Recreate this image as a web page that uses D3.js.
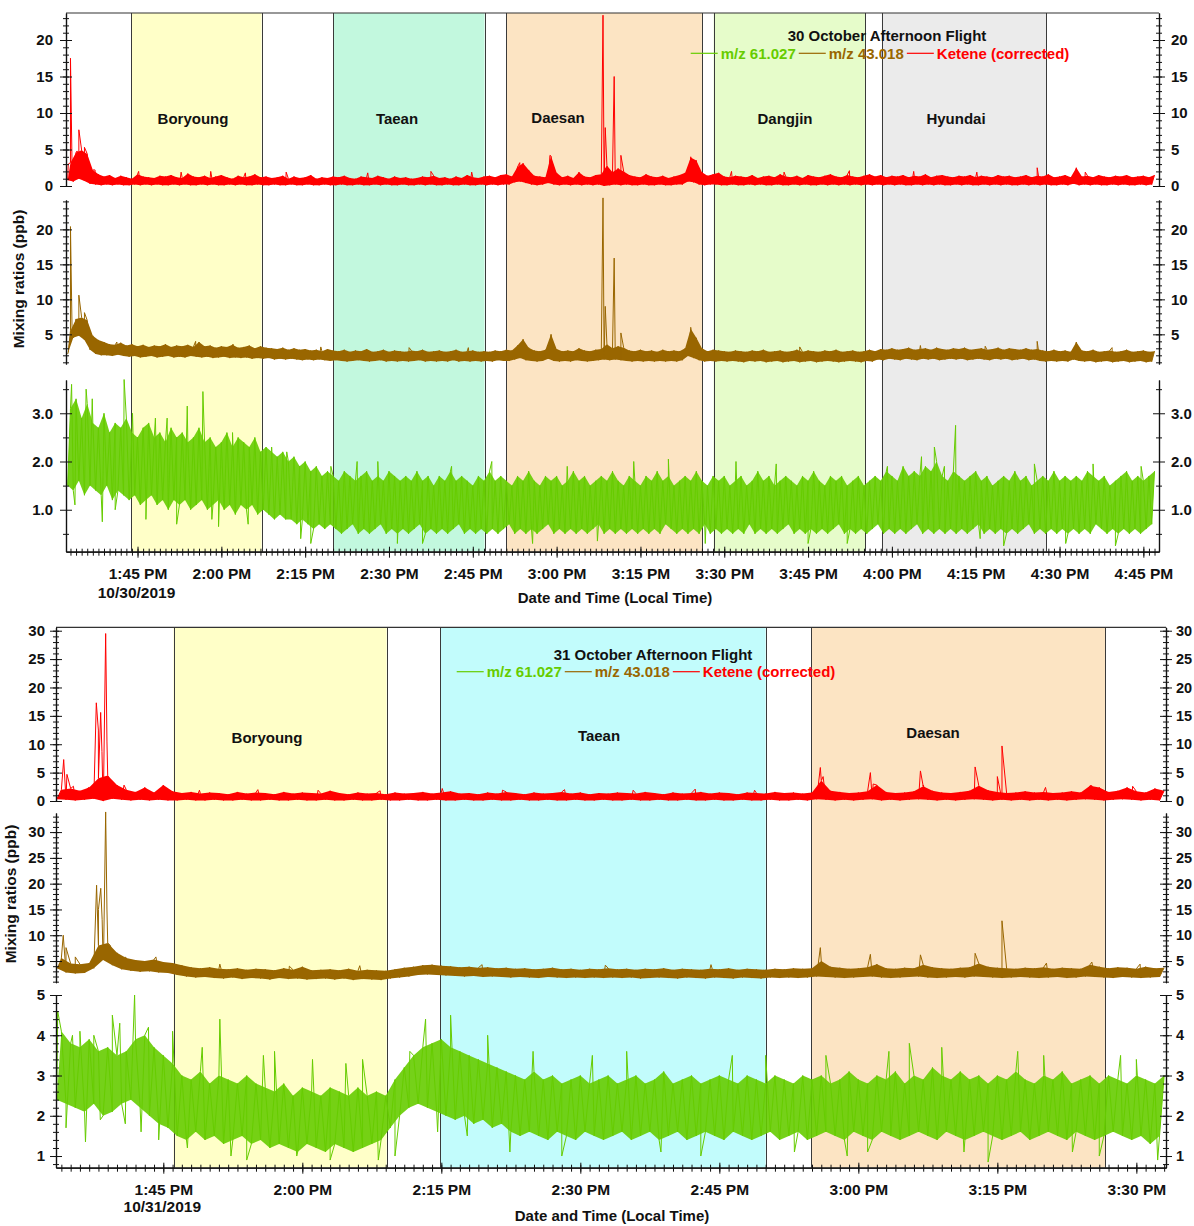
<!DOCTYPE html>
<html>
<head>
<meta charset="utf-8">
<script src="https://cdn.jsdelivr.net/npm/d3@7"></script>
<style>
  body { margin: 0; background: #fff; }
  svg { display: block; }
</style>
</head>
<body>
<svg id="chart" width="1194" height="1226"></svg>
<script>
// all times are minutes after 1:00 PM local time; each bin = 1 minute (low, then high reading)

// ---------------- 30 October afternoon flight ----------------
const bandNames30 = ['Boryoung', 'Taean', 'Daesan', 'Dangjin', 'Hyundai'];
const bandStart30 = [43.9, 80.0, 111.0, 148.1, 178.2];
const bandEnd30 = [67.2, 107.1, 146.0, 175.2, 207.6];
const binStart30 = 32.5;

const ketene30Hi = [
  3.2,4.6,4.9,4.4,2.2,1.6,1.3,1.5,1.1,1.4, 1.2,1.0,1.6,1.3,1.2,1.1,1.4,1.3,1.5,1.2,
  1.1,1.7,1.3,1.2,1.4,1.1,1.3,1.5,1.2,1.0, 1.4,1.2,1.3,1.6,1.2,1.3,1.1,1.2,1.4,1.0,
  1.3,1.1,1.2,1.5,1.0,1.2,1.1,1.3,1.2,1.4, 1.1,1.0,1.3,1.2,1.1,1.4,1.2,1.0,1.3,1.1,
  1.2,1.0,1.1,1.3,1.2,1.4,1.1,1.2,1.0,1.3, 1.1,1.5,1.2,1.1,1.3,1.4,1.2,1.5,1.6,1.3,
  2.6,3.1,2.2,1.4,1.3,1.2,4.1,1.8,1.2,1.4, 1.1,1.9,1.3,1.2,1.5,1.6,2.8,1.9,2.4,2.0,
  1.5,1.3,1.2,1.6,1.3,1.2,1.4,1.1,1.3,1.5, 1.8,3.9,3.5,1.9,1.4,1.6,1.8,1.3,1.2,1.4,
  1.3,1.2,1.5,1.1,1.3,1.4,1.2,1.6,1.3,1.2, 1.4,1.1,1.5,1.3,1.2,1.4,1.6,1.3,1.2,1.5,
  1.3,1.2,1.4,1.6,1.3,1.5,1.2,1.4,1.3,1.5, 1.2,1.4,1.3,1.6,1.2,1.4,1.5,1.3,1.2,1.4,
  1.3,1.5,1.2,1.4,1.3,1.2,1.5,1.3,1.4,1.2, 1.3,1.5,1.2,1.4,1.3,1.6,1.2,1.3,1.5,1.2,
  2.5,1.3,1.4,1.2,1.5,1.3,1.2,1.4,1.3,1.5, 1.2,1.3,1.4,1.2,1.5
];
const ketene30Lo = [
  0.8,0.6,1.0,0.7,0.3,0.2,0.1,0.2,0.1,0.2, 0.1,0.1,0.2,0.1,0.2,0.1,0.2,0.1,0.1,0.2,
  0.1,0.2,0.1,0.1,0.2,0.1,0.2,0.1,0.1,0.2, 0.1,0.2,0.1,0.1,0.2,0.1,0.1,0.2,0.1,0.1,
  0.2,0.1,0.1,0.2,0.1,0.1,0.2,0.1,0.1,0.2, 0.1,0.1,0.2,0.1,0.1,0.2,0.1,0.2,0.1,0.1,
  0.2,0.1,0.1,0.2,0.1,0.2,0.1,0.1,0.2,0.1, 0.1,0.2,0.1,0.1,0.2,0.1,0.2,0.1,0.2,0.2,
  0.5,0.6,0.4,0.2,0.1,0.2,0.4,0.2,0.1,0.2, 0.1,0.2,0.1,0.2,0.1,0.2,0.0,0.1,0.2,0.1,
  0.2,0.1,0.1,0.2,0.1,0.1,0.2,0.1,0.1,0.2, 0.2,0.6,0.5,0.2,0.1,0.2,0.2,0.1,0.1,0.2,
  0.1,0.1,0.2,0.1,0.2,0.1,0.1,0.2,0.1,0.1, 0.2,0.1,0.2,0.1,0.1,0.2,0.1,0.2,0.1,0.2,
  0.1,0.2,0.1,0.2,0.1,0.2,0.1,0.2,0.1,0.2, 0.1,0.1,0.2,0.1,0.2,0.1,0.2,0.1,0.1,0.2,
  0.1,0.2,0.1,0.1,0.2,0.1,0.2,0.1,0.2,0.1, 0.1,0.2,0.1,0.2,0.1,0.2,0.1,0.1,0.2,0.1,
  0.3,0.1,0.2,0.1,0.2,0.1,0.1,0.2,0.1,0.2, 0.1,0.1,0.2,0.1,0.2
];
const ketene30Peaks = [
  [32.6, 3.0], [33.0, 17.5], [33.3, 2.0], [34.2, 4.8], [34.5, 7.7], [35.0, 1.5], [35.5, 5.3],
  [37.4, 2.2], [45.2, 2.0], [52.8, 1.9], [58.1, 2.0], [64.3, 1.8], [71.6, 1.9], [86.2, 1.8],
  [97.5, 2.0], [104.8, 1.9], [113.4, 3.2], [118.8, 4.2], [128.3, 23.4], [128.7, 8.0],
  [130.3, 15.0], [131.5, 4.2], [144.0, 4.0], [151.3, 2.0], [160.7, 1.9], [172.4, 2.1],
  [183.9, 2.0], [195.2, 1.9], [206.0, 2.5], [214.6, 1.9]
];

const mz43_30Hi = [
  5.5,7.2,7.4,7.0,4.8,4.2,3.9,3.6,3.5,3.8, 3.4,3.6,3.3,3.5,3.2,3.4,3.3,3.6,3.2,3.4,
  3.3,3.5,3.2,3.9,3.3,3.4,3.1,3.3,3.2,3.5, 3.1,3.2,3.4,3.0,3.3,3.1,3.0,2.9,3.1,2.8,
  3.0,2.8,2.9,2.7,2.8,2.6,2.9,2.7,2.6,2.8, 2.5,2.7,2.6,2.9,2.5,2.6,2.8,2.5,2.7,2.6,
  2.5,2.7,2.6,2.8,2.5,2.6,2.7,2.5,2.6,2.8, 2.5,2.6,2.7,2.5,2.6,2.5,2.7,2.6,2.8,2.7,
  3.4,4.3,3.1,2.7,2.6,2.8,5.0,2.9,2.6,2.7, 2.6,3.0,2.7,2.6,2.8,2.9,3.6,3.0,3.3,3.1,
  2.7,2.6,2.8,2.6,2.7,2.5,2.8,2.6,2.7,2.6, 3.0,5.8,4.5,3.0,2.6,2.8,2.7,2.6,2.5,2.7,
  2.6,2.5,2.7,2.6,2.8,2.5,2.6,2.7,2.5,2.6, 2.8,2.5,2.7,2.6,2.5,2.7,2.6,2.8,2.5,2.6,
  2.7,2.5,2.6,2.8,2.6,2.9,2.8,3.0,2.8,2.9, 3.1,2.8,2.9,3.0,2.8,3.1,2.9,2.8,3.0,2.9,
  3.1,2.8,2.9,3.0,2.8,2.9,3.1,2.8,3.0,2.9, 2.8,3.0,2.8,2.9,2.7,2.6,2.8,2.6,2.7,2.5,
  3.9,2.7,2.6,2.8,2.5,2.6,2.7,2.5,2.6,2.8, 2.5,2.6,2.7,2.5,2.6
];
const mz43_30Lo = [
  2.2,4.5,4.8,4.2,2.8,2.2,2.0,2.0,1.9,2.1, 1.9,1.8,1.9,1.7,1.8,1.9,1.7,1.8,1.9,1.7,
  1.8,1.7,1.9,1.8,1.7,1.8,1.6,1.7,1.8,1.6, 1.7,1.6,1.7,1.5,1.6,1.5,1.6,1.4,1.5,1.4,
  1.5,1.4,1.3,1.4,1.3,1.4,1.3,1.2,1.3,1.2, 1.1,1.2,1.3,1.2,1.1,1.2,1.3,1.1,1.2,1.1,
  1.2,1.1,1.2,1.3,1.1,1.2,1.1,1.2,1.1,1.3, 1.1,1.2,1.1,1.2,1.1,1.2,1.1,1.3,1.2,1.2,
  1.4,1.6,1.3,1.2,1.1,1.2,1.5,1.2,1.1,1.2, 1.1,1.3,1.2,1.1,1.2,1.3,1.4,1.3,1.4,1.3,
  1.2,1.1,1.2,1.1,1.2,1.1,1.2,1.1,1.2,1.1, 1.3,1.9,1.6,1.3,1.1,1.2,1.1,1.2,1.1,1.2,
  1.1,1.0,1.2,1.1,1.2,1.0,1.1,1.2,1.0,1.1, 1.2,1.0,1.1,1.2,1.0,1.1,1.2,1.1,1.0,1.1,
  1.2,1.1,1.0,1.2,1.1,1.4,1.3,1.5,1.4,1.3, 1.5,1.4,1.3,1.5,1.4,1.5,1.3,1.4,1.5,1.4,
  1.5,1.3,1.4,1.5,1.4,1.3,1.5,1.4,1.5,1.3, 1.4,1.5,1.3,1.4,1.2,1.1,1.2,1.1,1.2,1.1,
  1.4,1.2,1.1,1.2,1.0,1.1,1.2,1.0,1.1,1.2, 1.0,1.1,1.2,1.0,1.1
];
const mz43_30Peaks = [
  [32.6, 2.4], [33.0, 20.4], [33.3, 5.0], [34.5, 10.6], [35.5, 8.1], [36.9, 4.3],
  [41.3, 3.9], [55.4, 4.0], [62.1, 3.6], [77.8, 3.2], [93.6, 3.1], [104.2, 3.1],
  [128.3, 24.5], [128.7, 9.0], [130.3, 15.9], [131.5, 5.2], [144.0, 6.0], [163.5, 3.2],
  [185.1, 3.4], [196.7, 3.3], [206.0, 4.0], [219.4, 3.1]
];

const mz61_30Hi = [
  3.1,3.3,2.9,3.2,2.8,2.7,3.0,2.6,2.8,2.7, 2.9,2.6,2.5,2.7,2.8,2.5,2.6,2.4,2.7,2.5,
  2.6,2.4,2.5,2.7,2.4,2.5,2.3,2.4,2.6,2.3, 2.5,2.4,2.3,2.5,2.2,2.3,2.2,2.1,2.2,2.0,
  2.1,1.9,2.0,1.8,1.9,1.7,1.8,1.7,1.6,1.8, 1.7,1.6,1.7,1.8,1.6,1.7,1.6,1.8,1.7,1.6,
  1.7,1.6,1.8,1.6,1.7,1.5,1.7,1.6,1.8,1.6, 1.7,1.6,1.5,1.7,1.6,1.8,1.6,1.7,1.6,1.5,
  1.7,1.6,1.8,1.6,1.5,1.7,1.6,1.7,1.5,1.6, 1.8,1.6,1.7,1.5,1.6,1.7,1.6,1.8,1.6,1.5,
  1.7,1.6,1.5,1.7,1.6,1.8,1.6,1.7,1.5,1.6, 1.7,1.6,1.8,1.6,1.5,1.7,1.6,1.7,1.5,1.6,
  1.7,1.5,1.6,1.8,1.6,1.7,1.5,1.6,1.7,1.6, 1.5,1.7,1.6,1.8,1.6,1.5,1.7,1.6,1.7,1.5,
  1.6,1.7,1.5,1.6,1.7,1.6,1.8,1.7,1.6,1.9, 1.7,1.8,1.7,1.9,1.8,2.0,1.7,1.6,1.8,1.7,
  1.6,1.7,1.8,1.6,1.7,1.5,1.6,1.7,1.6,1.8, 1.6,1.7,1.5,1.6,1.7,1.6,1.8,1.6,1.7,1.6,
  1.7,1.6,1.8,1.7,1.6,1.7,1.5,1.6,1.7,1.8, 1.6,1.7,1.6,1.7,1.8
];
const mz61_30Lo = [
  1.5,1.4,1.6,1.3,1.5,1.4,1.3,1.5,1.2,1.4, 1.3,1.2,1.3,1.1,1.2,1.3,1.1,1.2,1.0,1.2,
  1.1,1.2,1.0,1.1,1.2,1.0,1.1,1.2,1.0,1.1, 0.9,1.1,1.0,1.1,0.9,1.0,0.9,0.8,0.9,0.8,
  0.8,0.7,0.8,0.7,0.6,0.7,0.6,0.7,0.6,0.5, 0.6,0.7,0.5,0.6,0.5,0.6,0.7,0.5,0.6,0.5,
  0.6,0.5,0.6,0.7,0.5,0.6,0.5,0.6,0.5,0.6, 0.7,0.5,0.6,0.5,0.6,0.5,0.6,0.5,0.6,0.7,
  0.5,0.6,0.5,0.6,0.5,0.6,0.7,0.5,0.6,0.5, 0.6,0.5,0.6,0.5,0.6,0.7,0.5,0.6,0.5,0.6,
  0.5,0.6,0.5,0.6,0.5,0.6,0.5,0.7,0.6,0.5, 0.6,0.5,0.6,0.5,0.7,0.5,0.6,0.5,0.6,0.5,
  0.6,0.5,0.7,0.5,0.6,0.5,0.6,0.5,0.6,0.7, 0.5,0.6,0.5,0.6,0.5,0.6,0.5,0.6,0.7,0.5,
  0.6,0.5,0.6,0.5,0.6,0.7,0.5,0.6,0.5,0.6, 0.5,0.6,0.7,0.5,0.6,0.5,0.6,0.5,0.6,0.5,
  0.6,0.5,0.6,0.7,0.5,0.6,0.5,0.6,0.5,0.6, 0.5,0.6,0.7,0.5,0.6,0.5,0.6,0.5,0.6,0.5,
  0.6,0.5,0.6,0.5,0.7,0.6,0.5,0.6,0.5,0.6, 0.5,0.6,0.5,0.6,0.7
];
const mz61_30Peaks = [
  [33.2, 3.6], [33.8, 1.1], [35.8, 3.5], [36.9, 3.3], [38.7, 0.75], [41.0, 1.0], [42.6, 3.7],
  [44.1, 3.0], [46.5, 0.8], [48.2, 2.9], [50.3, 2.9], [52.0, 0.7], [53.9, 3.15], [56.7, 3.45],
  [58.3, 0.8], [59.5, 0.65], [62.0, 2.6], [64.8, 0.7], [69.0, 2.3], [71.7, 2.2], [74.2, 0.4],
  [76.0, 0.3], [79.6, 1.9], [84.3, 2.0], [88.0, 2.0], [91.5, 0.3], [96.0, 0.3], [101.2, 1.9],
  [108.4, 2.0], [115.7, 0.3], [121.9, 1.9], [127.3, 0.35], [133.8, 2.0], [140.0, 2.05],
  [146.6, 0.3], [152.1, 2.0], [159.3, 1.95], [165.0, 0.3], [172.0, 0.3], [179.2, 1.9],
  [185.3, 2.1], [187.6, 2.3], [189.4, 1.9], [191.4, 2.75], [195.8, 0.4], [200.0, 0.25],
  [205.5, 1.95], [211.1, 0.3], [216.0, 1.95], [220.0, 0.25], [224.6, 1.9]
];

// ---------------- 31 October afternoon flight ----------------
const bandNames31 = ['Boryoung', 'Taean', 'Daesan'];
const bandStart31 = [46.1, 74.9, 114.9];
const bandEnd31 = [69.1, 110.0, 146.65];
const binStart31 = 33.5;

const ketene31Hi = [
  2.0,2.2,1.8,2.4,4.0,4.5,2.8,2.0,1.6,2.4, 1.5,2.8,1.7,1.4,1.6,1.3,1.5,1.4,1.2,1.6,
  1.3,1.5,1.4,1.2,1.6,1.3,1.5,1.4,1.3,1.8, 1.4,1.2,1.5,1.3,1.4,1.2,1.5,1.3,1.4,1.6,
  1.3,1.5,1.7,1.3,1.4,1.2,1.5,1.3,1.6,1.4, 1.2,1.5,1.3,1.4,1.6,1.3,1.5,1.2,1.4,1.3,
  1.5,1.4,1.3,1.6,1.4,1.2,1.5,1.3,1.4,1.6, 1.3,1.5,1.4,1.2,1.5,1.4,1.3,1.6,1.4,1.5,
  1.3,1.5,3.6,1.8,1.6,1.4,1.5,1.7,2.8,1.6, 1.4,1.5,1.7,2.6,1.8,1.5,1.4,1.6,1.8,2.7,
  1.9,1.6,1.4,1.5,1.7,1.5,1.6,1.4,1.5,1.7, 1.5,2.7,2.4,1.6,1.8,2.4,1.7,1.5,2.2,1.8
];
const ketene31Lo = [
  0.3,0.2,0.1,0.2,0.4,0.0,0.4,0.2,0.1,0.2, 0.1,0.2,0.1,0.1,0.2,0.1,0.1,0.2,0.1,0.1,
  0.2,0.1,0.1,0.2,0.1,0.1,0.2,0.1,0.1,0.2, 0.1,0.1,0.2,0.1,0.1,0.2,0.1,0.1,0.2,0.1,
  0.1,0.2,0.1,0.1,0.2,0.1,0.1,0.2,0.1,0.1, 0.2,0.1,0.1,0.2,0.1,0.1,0.2,0.1,0.1,0.2,
  0.1,0.1,0.2,0.1,0.1,0.2,0.1,0.1,0.2,0.1, 0.1,0.2,0.1,0.1,0.2,0.1,0.1,0.2,0.1,0.1,
  0.2,0.1,0.3,0.2,0.1,0.2,0.1,0.2,0.3,0.1, 0.2,0.1,0.2,0.3,0.2,0.1,0.2,0.1,0.2,0.3,
  0.2,0.1,0.2,0.1,0.2,0.1,0.2,0.1,0.2,0.1, 0.2,0.3,0.2,0.1,0.2,0.3,0.2,0.1,0.2,0.1
];
const ketene31Peaks = [
  [34.25, 7.3], [34.6, 4.7], [35.3, 2.6], [36.8, 2.2], [37.77, 17.3], [37.99, 12.5],
  [38.24, 15.6], [38.38, 8.7], [38.53, 0.0], [38.78, 29.5], [38.92, 10.4], [39.25, 3.7],
  [40.76, 2.8], [43.1, 2.2], [48.9, 1.9], [55.2, 2.0], [61.7, 1.9], [68.4, 1.8],
  [75.1, 2.2], [81.6, 1.9], [88.3, 2.0], [95.7, 1.9], [102.4, 2.1], [108.8, 1.9],
  [115.9, 5.9], [116.2, 4.3], [121.3, 5.0], [121.6, 3.0], [126.7, 5.3], [127.0, 2.8],
  [132.6, 6.0], [135.0, 4.3], [135.5, 9.7], [140.2, 2.4], [145.2, 2.7], [149.6, 2.6]
];

const mz43_31Hi = [
  5.6,4.5,4.4,4.6,8.0,8.5,6.6,5.6,5.2,5.0, 5.3,4.8,4.6,4.2,3.8,3.6,3.8,3.5,3.4,3.6,
  3.3,3.5,3.4,3.2,3.6,3.3,3.9,3.2,3.3,3.4, 3.2,3.5,3.1,3.3,3.2,3.1,3.4,3.7,3.9,4.2,
  4.3,4.1,4.0,3.8,3.9,3.7,3.8,3.6,3.7,3.5, 3.6,3.4,3.5,3.7,3.4,3.5,3.3,3.5,3.4,3.6,
  3.4,3.5,3.3,3.5,3.4,3.6,3.3,3.5,3.4,3.3, 3.5,3.4,3.6,3.3,3.5,3.4,3.3,3.5,3.4,3.6,
  3.5,3.6,5.0,3.9,3.7,3.5,3.6,3.8,4.4,3.6, 3.5,3.7,3.6,4.3,3.8,3.6,3.5,3.7,3.8,4.5,
  3.9,3.7,3.6,3.5,3.7,3.6,3.8,3.5,3.7,3.6, 3.5,4.3,3.9,3.6,3.8,3.7,3.5,3.9,3.6,3.7
];
const mz43_31Lo = [
  3.6,2.8,2.6,2.7,3.6,5.2,4.2,3.4,3.1,2.9, 3.0,2.8,2.7,2.3,2.0,1.8,1.9,1.7,1.6,1.8,
  1.5,1.7,1.6,1.4,1.7,1.5,1.6,1.4,1.5,1.6, 1.4,1.6,1.3,1.5,1.4,1.3,1.6,1.8,2.0,2.3,
  2.4,2.3,2.2,2.1,2.0,2.1,1.9,2.0,1.9,1.8, 1.9,1.8,1.7,1.9,1.8,1.7,1.8,1.7,1.8,1.7,
  1.8,1.7,1.8,1.6,1.7,1.8,1.7,1.6,1.8,1.7, 1.6,1.8,1.7,1.6,1.8,1.7,1.6,1.8,1.7,1.8,
  1.7,1.8,2.0,1.9,1.8,1.7,1.8,1.9,2.0,1.8, 1.7,1.8,1.9,2.0,1.8,1.7,1.8,1.9,1.8,2.0,
  1.9,1.8,1.7,1.8,1.9,1.8,1.7,1.8,1.9,1.7, 1.8,2.0,1.9,1.8,1.7,1.9,1.8,1.7,1.8,1.9
];
const mz43_31Peaks = [
  [33.9, 4.3], [34.2, 10.0], [34.5, 7.6], [35.5, 5.8], [37.8, 19.7], [38.0, 15.0],
  [38.25, 19.1], [38.4, 13.0], [38.55, 5.5], [38.78, 33.9], [38.92, 14.9], [39.3, 8.0],
  [40.9, 5.8], [44.2, 5.8], [51.1, 4.4], [58.6, 4.0], [66.2, 4.1], [79.4, 4.3],
  [92.7, 4.2], [104.1, 4.3], [115.9, 7.6], [121.3, 6.3], [126.7, 6.2], [132.6, 6.5],
  [135.5, 12.8], [140.3, 4.6], [145.2, 4.8], [150.4, 4.4]
];

const mz61_31Hi = [
  4.1,3.8,3.7,3.9,3.6,3.7,3.5,3.6,3.9,4.0, 3.7,3.5,3.3,3.0,2.9,3.1,2.8,3.0,2.9,2.8,
  3.0,2.8,2.7,2.6,2.8,2.5,2.7,2.6,2.5,2.7, 2.6,2.5,2.7,2.5,2.6,2.5,2.9,3.2,3.5,3.7,
  3.8,3.9,3.7,3.6,3.5,3.4,3.3,3.2,3.1,3.0, 2.9,3.1,2.9,3.0,2.8,2.9,3.0,2.8,2.9,3.0,
  2.8,2.9,3.0,2.8,2.9,3.1,2.8,2.9,3.0,2.8, 2.9,3.0,2.9,2.8,3.0,2.9,2.8,3.0,2.9,2.8,
  3.0,2.9,3.0,2.8,2.9,3.1,2.9,2.8,3.0,2.9, 3.1,2.8,3.0,2.9,3.2,3.0,2.9,3.1,2.9,3.0,
  2.8,3.0,2.9,3.1,2.9,2.8,3.0,2.9,3.1,2.8, 2.9,3.0,2.8,3.0,2.9,2.8,3.0,2.9,2.8,3.0
];
const mz61_31Lo = [
  2.4,2.3,2.2,2.1,2.3,2.0,2.1,2.3,2.4,2.2, 2.0,1.8,1.7,1.5,1.4,1.6,1.4,1.5,1.3,1.4,
  1.5,1.3,1.4,1.2,1.3,1.2,1.1,1.3,1.2,1.1, 1.3,1.2,1.1,1.2,1.3,1.4,1.7,2.0,2.2,2.3,
  2.2,2.1,2.0,1.9,2.0,1.8,1.9,1.7,1.8,1.6, 1.5,1.6,1.5,1.4,1.6,1.5,1.4,1.6,1.5,1.4,
  1.5,1.6,1.4,1.5,1.6,1.4,1.5,1.6,1.4,1.5, 1.6,1.5,1.4,1.6,1.5,1.4,1.5,1.6,1.4,1.5,
  1.6,1.4,1.5,1.6,1.5,1.4,1.6,1.5,1.4,1.6, 1.5,1.4,1.5,1.6,1.5,1.4,1.6,1.5,1.4,1.5,
  1.6,1.5,1.4,1.5,1.6,1.4,1.5,1.6,1.5,1.4, 1.6,1.5,1.4,1.5,1.6,1.5,1.4,1.5,1.3,1.5
];
const mz61_31Peaks = [
  [33.6, 4.6], [34.5, 1.7], [35.2, 4.0], [36.0, 4.1], [36.6, 1.35], [37.5, 4.0], [38.2, 1.9],
  [39.5, 4.5], [40.3, 4.3], [40.9, 1.8], [41.9, 5.0], [42.6, 1.6], [43.4, 4.2], [44.5, 1.4],
  [46.0, 4.1], [47.6, 1.2], [49.2, 3.7], [51.1, 4.4], [52.3, 1.0], [54.0, 0.9], [55.8, 3.5],
  [57.0, 3.6], [59.4, 1.0], [61.1, 3.4], [63.0, 0.9], [64.7, 3.3], [66.5, 3.4], [68.2, 0.9],
  [70.0, 1.0], [71.6, 3.6], [73.3, 4.4], [74.6, 1.6], [76.0, 4.5], [77.8, 1.5], [80.0, 4.0],
  [82.4, 1.1], [84.9, 3.6], [88.0, 1.0], [91.3, 3.5], [95.0, 3.6], [98.7, 1.1], [103.0, 1.0],
  [106.4, 3.5], [110.0, 3.5], [113.1, 1.1], [116.5, 3.5], [118.8, 1.0], [121.0, 1.1],
  [123.3, 3.6], [125.5, 3.8], [129.0, 3.7], [131.4, 1.1], [134.0, 0.85], [137.2, 3.6],
  [140.0, 3.5], [143.1, 1.1], [146.0, 1.0], [148.3, 3.5], [150.0, 3.4], [152.3, 0.9]
];

const seriesNames = ['m/z 61.027', 'm/z 43.018', 'Ketene (corrected)'];
const seriesColors = ['#66cc00', '#996600', '#ff0000'];
const bandFill30 = ['#ffffc8', '#c2f8de', '#fce4c3', '#e6fcca', '#ebebeb'];
const bandFill31 = ['#ffffc8', '#c2fcfc', '#fce4c3'];

const FONT = '"Liberation Sans", Arial, Helvetica, sans-serif';
const INK = '#111';
const svg = d3.select('#chart');

function at(day, m) { return new Date(day.getTime() + m * 60000); }

function tracePoints(start, lo, hi, peaks) {
  const pts = [];
  const n = Math.min(lo.length, hi.length);
  for (let i = 0; i < n; i++) {
    pts.push([start + i, lo[i]]);
    pts.push([start + i + 0.5, hi[i]]);
  }
  peaks.forEach(p => pts.push(p));
  return pts.sort((a, b) => a[0] - b[0]);
}

// d3 puts font attributes on the group it is called on, so restyle that group
function styleAxis(a, size) {
  a.attr('font-family', FONT).attr('font-size', size || 15).attr('font-weight', 'bold')
    .attr('fill', INK).attr('color', INK);
  a.select('.domain').attr('stroke-width', 1.2);
}

function drawFlight(L, S) {
  const g = svg.append('g');
  const day = L.day;
  const x = d3.scaleTime().domain([at(day, L.t0), at(day, L.t1)]).range([L.left, L.right]);

  // site bands
  S.bandNames.forEach((name, i) => {
    const x0 = x(at(day, S.bandStart[i])), x1 = x(at(day, S.bandEnd[i]));
    g.append('rect').attr('x', x0).attr('y', L.top).attr('width', x1 - x0)
      .attr('height', L.axisY - L.top).attr('fill', S.bandFill[i]);
  });
  S.bandNames.forEach((name, i) => {
    [S.bandStart[i], S.bandEnd[i]].forEach(m => {
      const xx = Math.round(x(at(day, m))) + 0.5;
      g.append('line').attr('x1', xx).attr('x2', xx).attr('y1', L.top).attr('y2', L.axisY)
        .attr('stroke', '#3a3a3a').attr('stroke-width', 1);
    });
  });

  // top frame
  g.append('line').attr('x1', L.left).attr('x2', L.right).attr('y1', L.top).attr('y2', L.top)
    .attr('stroke', '#333').attr('stroke-width', 1.2);

  // site labels
  const txt = (xx, yy, str, size, color, anchor) => g.append('text')
    .attr('x', xx).attr('y', yy).attr('dy', '0.35em')
    .attr('text-anchor', anchor || 'middle')
    .attr('font-family', FONT).attr('font-weight', 'bold').attr('font-size', size)
    .attr('fill', color || INK).text(str);
  S.bandNames.forEach((name, i) => txt(L.bandLabelX[i], L.bandLabelY[i], name, 15));

  // panels: ketene (top), m/z 43 (middle), m/z 61 (bottom)
  L.panels.forEach((p, k) => {
    const s = S.series[k];
    const y = d3.scaleLinear().domain(p.domain).range(p.range);
    const n = Math.min(s.lo.length, s.hi.length);
    const bins = d3.range(n);
    const area = d3.area()
      .x0(i => x(at(day, S.binStart + i)))
      .x1(i => x(at(day, S.binStart + i + 0.5)))
      .y0(i => y(s.lo[i]))
      .y1(i => y(s.hi[i]));
    g.append('path').attr('d', area(bins)).attr('fill', s.color).attr('fill-opacity', p.fillOpacity);
    const line = d3.line().x(d => x(at(day, d[0]))).y(d => y(d[1]));
    g.append('path').attr('d', line(tracePoints(S.binStart, s.lo, s.hi, s.peaks)))
      .attr('fill', 'none').attr('stroke', s.color).attr('stroke-width', 1)
      .attr('stroke-linejoin', 'miter');

    // left axis
    const gl = g.append('g').attr('transform', `translate(${L.left},0)`);
    gl.append('g').call(d3.axisLeft(y).tickValues(p.minor).tickSize(3).tickSizeOuter(0).tickFormat(''))
      .call(a => a.selectAll('.tick line').attr('x1', 3)).call(styleAxis);
    gl.append('g').call(d3.axisLeft(y).tickValues(p.major).tickSize(6).tickSizeOuter(0)
      .tickPadding(L.padLeft).tickFormat(p.fmt))
      .call(a => a.selectAll('.tick line').attr('x1', 6)).call(styleAxis);
    // right axis
    const gr = g.append('g').attr('transform', `translate(${L.right},0)`);
    gr.append('g').call(d3.axisRight(y).tickValues(p.minor).tickSize(3).tickSizeOuter(0).tickFormat(''))
      .call(a => a.selectAll('.tick line').attr('x1', -3)).call(styleAxis);
    gr.append('g').call(d3.axisRight(y).tickValues(p.major).tickSize(6).tickSizeOuter(0)
      .tickPadding(L.padRight).tickFormat(p.fmt))
      .call(a => a.selectAll('.tick line').attr('x1', -6)).call(styleAxis, L.rightFont);
  });

  // time axis
  const gx = g.append('g').attr('transform', `translate(0,${L.axisY})`);
  gx.append('g').call(d3.axisBottom(x).ticks(d3.timeMinute.every(1)).tickSize(4).tickSizeOuter(0).tickFormat(''))
    .call(a => a.selectAll('.tick line').attr('y1', -3)).call(styleAxis);
  gx.append('g').call(d3.axisBottom(x).ticks(d3.timeMinute.every(15)).tickSize(6).tickSizeOuter(0)
    .tickFormat(d3.timeFormat('%-I:%M %p')))
    .call(a => a.selectAll('.tick line').attr('y1', -5))
    .call(a => a.selectAll('.tick text').attr('y', L.tickLabelDy).attr('dy', '0.35em'))
    .call(styleAxis, 15.5);

  const firstTick = x(x.ticks(d3.timeMinute.every(15))[0]);
  txt(firstTick - 1, L.dateY, d3.timeFormat('%m/%d/%Y')(day), 15.5);
  txt(L.xTitleX, L.xTitleY, 'Date and Time (Local Time)', 15);
  g.append('text').attr('transform', `translate(${L.yTitleX},${L.yTitleY}) rotate(-90)`)
    .attr('dy', '0.35em').attr('text-anchor', 'middle')
    .attr('font-family', FONT).attr('font-weight', 'bold').attr('font-size', 15.5)
    .attr('fill', INK).text('Mixing ratios (ppb)');

  // title and legend
  txt(L.titleX, L.titleY, S.title, 15);
  let cx = L.legendX;
  [0, 1, 2].forEach(k => {
    g.append('line').attr('x1', cx).attr('x2', cx + 27).attr('y1', L.legendY).attr('y2', L.legendY)
      .attr('stroke', seriesColors[k]).attr('stroke-width', 1.2);
    const t = txt(cx + 30, L.legendY, seriesNames[k], 15, seriesColors[k], 'start');
    cx += 30 + t.node().getComputedTextLength() + 3;
  });
}

const day30 = new Date(2019, 9, 30, 13, 0, 0);
const day31 = new Date(2019, 9, 31, 13, 0, 0);

drawFlight({
  day: day30, t0: 32.2, t1: 227.8, left: 66, right: 1159, top: 13, axisY: 551.7,
  padLeft: 7, padRight: 6, rightFont: 15, tickLabelDy: 21.6, dateY: 592.7, xTitleX: 615, xTitleY: 598,
  yTitleX: 19, yTitleY: 279,
  bandLabelX: [193, 397, 558, 785, 956], bandLabelY: [119, 119, 117.5, 119, 119],
  titleX: 887, titleY: 36, legendX: 690.7, legendY: 53.3,
  panels: [
    { domain: [0, 23.7], range: [186, 13], major: [0, 5, 10, 15, 20], minor: d3.range(0, 24), fmt: d3.format('d'), fillOpacity: 1 },
    { domain: [0.76, 24.2], range: [364, 200], major: [5, 10, 15, 20], minor: d3.range(1, 25), fmt: d3.format('d'), fillOpacity: 1 },
    { domain: [0.13, 3.69], range: [551.7, 380], major: [1, 2, 3], minor: [0.5, 1.5, 2.5, 3.5], fmt: d3.format('.1f'), fillOpacity: 0.9 }
  ]
}, {
  title: '30 October Afternoon Flight', binStart: binStart30,
  bandNames: bandNames30, bandStart: bandStart30, bandEnd: bandEnd30, bandFill: bandFill30,
  series: [
    { lo: ketene30Lo, hi: ketene30Hi, peaks: ketene30Peaks, color: seriesColors[2] },
    { lo: mz43_30Lo, hi: mz43_30Hi, peaks: mz43_30Peaks, color: seriesColors[1] },
    { lo: mz61_30Lo, hi: mz61_30Hi, peaks: mz61_30Peaks, color: seriesColors[0] }
  ]
});

drawFlight({
  day: day31, t0: 33.42, t1: 153.2, left: 56, right: 1166, top: 627.3, axisY: 1167.7,
  padLeft: 5, padRight: 4, rightFont: 14.5, tickLabelDy: 22.3, dateY: 1206.7, xTitleX: 612, xTitleY: 1216,
  yTitleX: 11, yTitleY: 894,
  bandLabelX: [267, 599, 933], bandLabelY: [737.3, 736, 732.3],
  titleX: 653, titleY: 654.3, legendX: 456.7, legendY: 671.7,
  panels: [
    { domain: [0, 30.6], range: [801, 627.3], major: [0, 5, 10, 15, 20, 25, 30], minor: d3.range(0, 31), fmt: d3.format('d'), fillOpacity: 1 },
    { domain: [0.8, 33.7], range: [982.7, 813], major: [5, 10, 15, 20, 25, 30], minor: d3.range(1, 34), fmt: d3.format('d'), fillOpacity: 1 },
    { domain: [0.71, 5], range: [1167.7, 995], major: [1, 2, 3, 4, 5], minor: d3.range(0.8, 5.01, 0.2), fmt: d3.format('d'), fillOpacity: 0.9 }
  ]
}, {
  title: '31 October Afternoon Flight', binStart: binStart31,
  bandNames: bandNames31, bandStart: bandStart31, bandEnd: bandEnd31, bandFill: bandFill31,
  series: [
    { lo: ketene31Lo, hi: ketene31Hi, peaks: ketene31Peaks, color: seriesColors[2] },
    { lo: mz43_31Lo, hi: mz43_31Hi, peaks: mz43_31Peaks, color: seriesColors[1] },
    { lo: mz61_31Lo, hi: mz61_31Hi, peaks: mz61_31Peaks, color: seriesColors[0] }
  ]
});
</script>
</body>
</html>
